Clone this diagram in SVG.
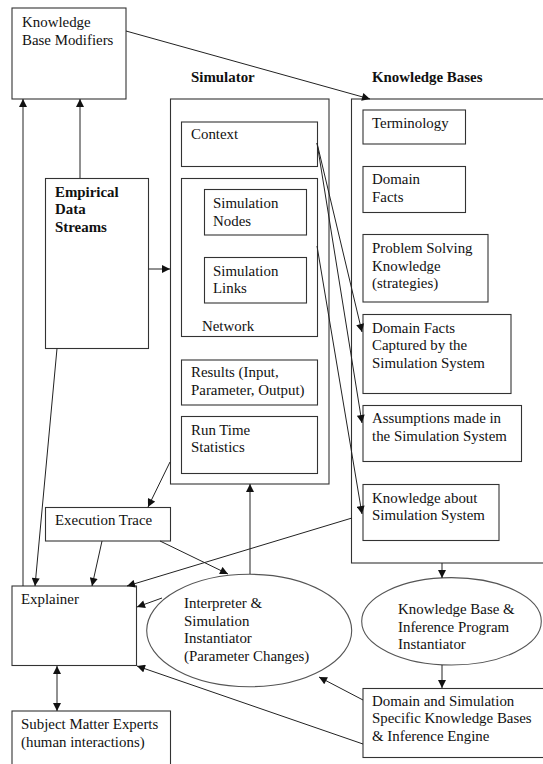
<svg xmlns="http://www.w3.org/2000/svg" width="543" height="764" viewBox="0 0 543 764">
<style>
text{font-family:"Liberation Serif","Times New Roman",serif;font-size:14.9px;fill:#111}
.b{font-weight:bold}
.box{fill:#fff;stroke:#333;stroke-width:1.1}
.ell{fill:#fff;stroke:#555;stroke-width:1.1}
.c line{stroke:#222;stroke-width:1}
</style>
<defs>
<marker id="ar" viewBox="0 0 10 10" refX="10" refY="5" markerWidth="9" markerHeight="8" markerUnits="userSpaceOnUse" orient="auto">
<path d="M0,0 L10,5 L0,10 z" fill="#111"/>
</marker>
<marker id="as" viewBox="0 0 10 10" refX="0" refY="5" markerWidth="9" markerHeight="8" markerUnits="userSpaceOnUse" orient="auto">
<path d="M10,0 L0,5 L10,10 z" fill="#111"/>
</marker>
</defs>
<rect width="543" height="764" fill="#fff"/>

<g id="kbm"><rect class="box" x="12" y="8" width="114" height="91"/><text x="22" y="27">Knowledge</text><text x="22" y="45">Base Modifiers</text></g>

<g id="simulator"><text class="b" x="191" y="82">Simulator</text><rect class="box" x="170.5" y="99" width="158.5" height="385"/></g>
<g id="context"><rect class="box" x="181.5" y="122" width="136" height="44.5"/><text x="191" y="139">Context</text></g>
<g id="network"><rect class="box" x="181.5" y="178.5" width="136" height="158"/><text x="202" y="331">Network</text></g>
<g id="simnodes"><rect class="box" x="204.5" y="189.5" width="102" height="45.5"/><text x="213" y="208">Simulation</text><text x="213" y="226">Nodes</text></g>
<g id="simlinks"><rect class="box" x="204.5" y="257.5" width="102" height="45.5"/><text x="213" y="276">Simulation</text><text x="213" y="293">Links</text></g>
<g id="results"><rect class="box" x="181.5" y="360" width="136" height="45"/><text x="191" y="377">Results (Input,</text><text x="191" y="395">Parameter, Output)</text></g>
<g id="runtime"><rect class="box" x="181.5" y="416.5" width="136" height="57"/><text x="191" y="435">Run Time</text><text x="191" y="452">Statistics</text></g>

<g id="kbases"><text class="b" x="372" y="82">Knowledge Bases</text><rect class="box" x="351.5" y="99" width="200" height="464"/></g>
<g id="terminology"><rect class="box" x="363" y="110" width="102.5" height="34"/><text x="372" y="128">Terminology</text></g>
<g id="domainfacts"><rect class="box" x="363" y="166.5" width="102.5" height="46"/><text x="372" y="184">Domain</text><text x="372" y="202">Facts</text></g>
<g id="problem"><rect class="box" x="363" y="234.5" width="125" height="67.5"/><text x="372" y="253">Problem Solving</text><text x="372" y="271">Knowledge</text><text x="372" y="288">(strategies)</text></g>
<g id="dfc"><rect class="box" x="363" y="314.5" width="148" height="79"/><text x="372" y="333">Domain Facts</text><text x="372" y="350">Captured by the</text><text x="372" y="368">Simulation System</text></g>
<g id="assumptions"><rect class="box" x="363" y="405.5" width="158.5" height="56"/><text x="372" y="423">Assumptions made in</text><text x="372" y="441">the Simulation System</text></g>
<g id="kabout"><rect class="box" x="363" y="484.5" width="136" height="56"/><text x="372" y="503">Knowledge about</text><text x="372" y="520">Simulation System</text></g>

<g id="empirical"><rect class="box" x="45.5" y="178.5" width="103" height="170"/><text class="b" x="55" y="197">Empirical</text><text class="b" x="55" y="214">Data</text><text class="b" x="55" y="232">Streams</text></g>
<g id="exectrace"><rect class="box" x="45.5" y="507.5" width="125" height="33.5"/><text x="55" y="525">Execution Trace</text></g>
<g id="explainer"><rect class="box" x="12" y="586" width="124.5" height="79.5"/><text x="21" y="604">Explainer</text></g>
<g id="sme"><rect class="box" x="12" y="711" width="158.5" height="60"/><text x="21" y="729">Subject Matter Experts</text><text x="21" y="747">(human interactions)</text></g>
<g id="interpreter"><ellipse class="ell" cx="249.2" cy="630.5" rx="102.5" ry="56.2"/><text x="184" y="608">Interpreter &amp;</text><text x="184" y="626">Simulation</text><text x="184" y="643">Instantiator</text><text x="184" y="661">(Parameter Changes)</text></g>
<g id="kbinst"><ellipse class="ell" cx="451.5" cy="621.3" rx="89.8" ry="43.7"/><text x="398" y="614">Knowledge Base &amp;</text><text x="398" y="632">Inference Program</text><text x="398" y="649">Instantiator</text></g>
<g id="domainsim"><rect class="box" x="363" y="688.5" width="190" height="69"/><text x="372" y="706">Domain and Simulation</text><text x="372" y="723">Specific Knowledge Bases</text><text x="372" y="741">&amp; Inference Engine</text></g>

<g class="c" id="connectors">
<line x1="126" y1="31" x2="370" y2="99" marker-end="url(#ar)"/>
<line x1="80" y1="178" x2="80" y2="99" marker-end="url(#ar)"/>
<line x1="23" y1="586" x2="23" y2="99" marker-end="url(#ar)"/>
<line x1="148.5" y1="269" x2="170" y2="269" marker-end="url(#ar)"/>
<line x1="57" y1="348.5" x2="35" y2="586" marker-end="url(#ar)"/>
<line x1="317" y1="143" x2="362" y2="332" marker-end="url(#ar)"/>
<line x1="317" y1="143" x2="362" y2="423" marker-end="url(#ar)"/>
<line x1="317" y1="246" x2="362" y2="514" marker-end="url(#ar)"/>
<line x1="170" y1="462" x2="148" y2="507" marker-end="url(#ar)"/>
<line x1="102" y1="541" x2="92" y2="586" marker-end="url(#ar)"/>
<line x1="160" y1="541" x2="228" y2="574" marker-end="url(#ar)"/>
<line x1="352" y1="518" x2="127" y2="586" marker-end="url(#ar)"/>
<line x1="250" y1="574" x2="250" y2="484" marker-end="url(#ar)"/>
<line x1="162" y1="598" x2="137" y2="607" marker-end="url(#ar)"/>
<line x1="57" y1="666" x2="57" y2="711" marker-start="url(#as)" marker-end="url(#ar)"/>
<line x1="363" y1="744" x2="137" y2="666" marker-end="url(#ar)"/>
<line x1="363" y1="700" x2="319" y2="677" marker-end="url(#ar)"/>
<line x1="442" y1="563" x2="442" y2="578" marker-end="url(#ar)"/>
<line x1="442" y1="665" x2="442" y2="688" marker-end="url(#ar)"/>
</g>
</svg>
